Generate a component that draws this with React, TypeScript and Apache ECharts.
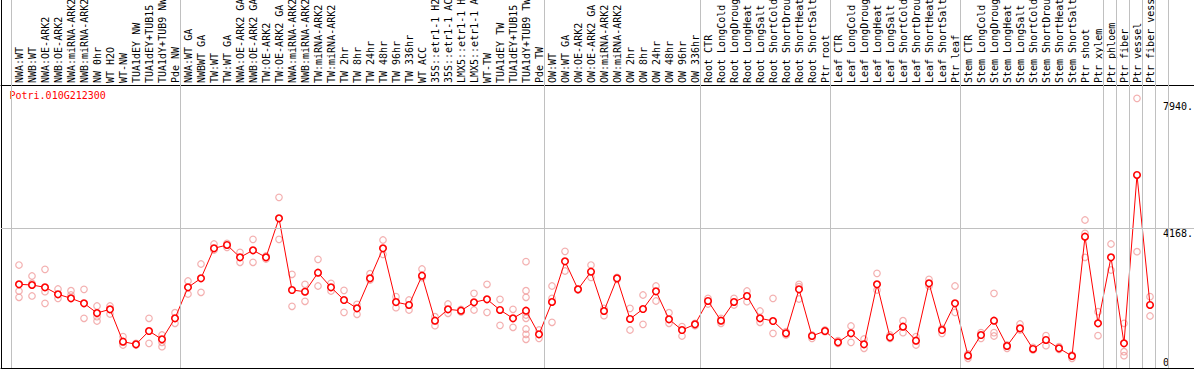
import React, { useEffect, useRef } from 'react';
import * as echarts from 'echarts';

const geneId = 'Potri.010G212300';

const categories = [
  'NWA:WT', 'NWB:WT', 'NWA:OE-ARK2', 'NWB:OE-ARK2', 'NWA:miRNA-ARK2', 'NWB:miRNA-ARK2', 'NW 0hr', 'WT H2O', 'WT-NW',
  'TUA1dEY NW', 'TUA1dEY+TUB15 NW', 'TUA1dY+TUB9 NW', 'Pde NW',
  'NWA:WT GA', 'NWBWT GA', 'TW:WT', 'TW:WT GA', 'NWA:OE-ARK2 GA', 'NWB:OE-ARK2 GA', 'TW:OE-ARK2', 'TW:OE-ARK2 GA',
  'NWA:miRNA-ARK2 GA', 'NWB:miRNA-ARK2 GA', 'TW:miRNA-ARK2', 'TW:miRNA-ARK2 GA', 'TW 2hr', 'TW 8hr', 'TW 24hr',
  'TW 48hr', 'TW 96hr', 'TW 336hr', 'WT ACC', '35S::etr1-1 H2O', '35S::etr1-1 ACC', 'LMX5::etr1-1 H2O',
  'LMX5::etr1-1 ACC', 'WT-TW', 'TUA1dEY TW', 'TUA1dEY+TUB15 TW', 'TUA1dY+TUB9 TW', 'Pde TW',
  'OW:WT', 'OW:WT GA', 'OW:OE-ARK2', 'OW:OE-ARK2 GA', 'OW:miRNA-ARK2', 'OW:miRNA-ARK2 GA', 'OW 2hr', 'OW 8hr',
  'OW 24hr', 'OW 48hr', 'OW 96hr', 'OW 336hr',
  'Root CTR', 'Root LongCold', 'Root LongDrought', 'Root LongHeat', 'Root LongSalt', 'Root ShortCold',
  'Root ShortDrought', 'Root ShortHeat', 'Root ShortSalt', 'Ptr root',
  'Leaf CTR', 'Leaf LongCold', 'Leaf LongDrought', 'Leaf LongHeat', 'Leaf LongSalt', 'Leaf ShortCold',
  'Leaf ShortDrought', 'Leaf ShortHeat', 'Leaf ShortSalt', 'Ptr leaf',
  'Stem CTR', 'Stem LongCold', 'Stem LongDrought', 'Stem LongHeat', 'Stem LongSalt', 'Stem ShortCold',
  'Stem ShortDrought', 'Stem ShortHeat', 'Stem ShortSalt', 'Ptr shoot', 'Ptr xylem',
  'Ptr phloem', 'Ptr fiber', 'Ptr vessel', 'Ptr fiber vessel',
];

const groupSizes = [13, 28, 12, 10, 10, 11, 1, 1, 1, 1, 1];

const meanValues = [
  2492, 2471, 2402, 2194, 2075, 1926, 1637, 1748, 783, 706,
  1101, 854, 1480, 2402, 2670, 3563, 3662, 3296, 3504, 3296,
  4457, 2322, 2271, 2837, 2402, 2024, 1777, 2670, 3563, 1962,
  1876, 2748, 1408, 1748, 1706, 1956, 2045, 1727, 1480, 1706,
  1003, 1965, 3176, 2343, 2867, 1697, 2670, 1459, 1756, 2283,
  1450, 1131, 1301, 1995, 1408, 1965, 2143, 1480, 1399, 1033,
  2343, 953, 1101, 765, 1033, 706, 2492, 914, 1230, 813,
  2522, 1131, 1926, 366, 982, 1408, 655, 1182, 566, 834,
  586, 357, 3909, 1331, 3296, 735, 5746, 1876,
];

const replicateValues = [
  [3066, 2292, 2104], [2739, 2521, 2144], [2937, 2273, 1925], [2352, 2074], [2302, 2173],
  [2342, 1479], [1846, 1528, 1399], [1846, 1608], [933, 685], [734, 685],
  [1479, 734], [983, 764, 635], [1647, 1330], [2590, 2203], [3096, 2253],
  [3692, 3513], [3712, 3592], [3443, 3146], [3830, 3146], [3334, 3245],
  [5081, 3830], [2789, 1836], [2491, 1985], [3235, 2441], [2521, 2292],
  [2312, 1657], [1895, 1598], [2808, 2620], [3811, 3384], [2124, 1796],
  [2025, 1727], [2947, 2689], [1528, 1260], [1905, 1628], [1747, 1667],
  [2223, 1727], [2491, 1657], [2044, 1270], [1747, 1211],
  [3166, 2302, 2104, 1578, 1479, 1161, 1002, 854],
  [1131, 883], [2441, 2074, 1360], [3473, 2888], [2352, 2322], [3066, 2699],
  [1776, 1558], [2699, 2640], [1776, 1131], [2173, 1300], [2441, 1995],
  [1647, 1330], [1231, 953], [1330, 1260], [2074, 1905], [1479, 1330],
  [2074, 1876], [2292, 1975], [1697, 1360], [2074, 1032], [1082, 983],
  [2491, 2421, 2054], [983, 883], [1131, 1082], [814, 734], [1251, 764],
  [863, 586], [2818, 2322], [983, 883], [1409, 1052], [933, 685],
  [2640, 2441], [1181, 1032], [2441, 1657], [417, 288], [1052, 883],
  [2223, 1052, 953], [685, 586], [1310, 1131], [615, 536], [963, 665],
  [635, 556], [387, 288], [4406, 4009, 3295], [1677, 963], [3692, 2918],
  [1330, 486, 367], [8028, 3463], [2124, 1548],
];

const yTickValues = [0, 4168, 7940];
const gridLineValues = [4168];

const FONT = '"DejaVu Sans Mono", monospace';

export default function App() {
  const ref = useRef<HTMLDivElement>(null);

  useEffect(() => {
    document.body.style.margin = '0';
    const el = ref.current!;
    const chart = echarts.init(el, null, { renderer: 'svg' });

    const W = 1194;
    const H = 370;
    const gridLeft = 1;
    const gridRight = 0;
    const gridTop = 0;
    const gridBottom = 2;
    const headerH = 85;
    const colW = 13;
    const firstColX = 19;
    const plotW = W - gridLeft - gridRight;
    const plotH = H - gridTop - gridBottom;
    const xMin = -(firstColX - gridLeft) / colW;
    const xMax = xMin + plotW / colW;
    // vertical scale: zero at the bottom line, middle grid line 140px above it
    const yMin = 0;
    const yMax = (plotH * gridLineValues[0]) / 140;
    const sepShift = 7.5 / colW;

    const boundaries: number[] = [0];
    groupSizes.forEach((s) => boundaries.push(boundaries[boundaries.length - 1] + s));

    const meanData = meanValues.map((v, i) => [i, v]);
    const repData: number[][] = [];
    replicateValues.forEach((arr, i) => arr.forEach((v) => repData.push([i, v])));

    const fmt = (v: number) => (v === 0 ? '0' : `${v}.`);

    chart.setOption({
      animation: false,
      grid: {
        left: gridLeft,
        right: gridRight,
        top: gridTop,
        bottom: gridBottom,
        containLabel: false,
        outerBoundsMode: 'none',
        show: false,
      },
      xAxis: [
        {
          type: 'value',
          min: xMin,
          max: xMax,
          position: 'bottom',
          axisLine: { show: true, onZero: false, lineStyle: { color: '#000', width: 1 } },
          axisTick: { show: false },
          axisLabel: { show: false },
          splitLine: { show: false },
        },
        {
          type: 'value',
          min: xMin,
          max: xMax,
          position: 'top',
          offset: -headerH,
          axisLine: { show: true, onZero: false, lineStyle: { color: '#000', width: 1 } },
          axisTick: { show: false },
          splitLine: { show: false },
          axisLabel: { show: false },
        },
      ],
      yAxis: {
        type: 'value',
        min: yMin,
        max: yMax,
        axisLine: { show: true, onZero: false, lineStyle: { color: '#000', width: 1 } },
        axisTick: { show: false },
        axisLabel: { show: false },
        splitLine: { show: false },
      },
      series: [
        {
          type: 'line',
          data: [],
          silent: true,
          z: 1,
          markLine: {
            silent: true,
            symbol: ['none', 'none'],
            label: { show: false },
            lineStyle: { color: '#c0c0c0', width: 1, type: 'solid' },
            emphasis: { disabled: true },
            data: [
              ...boundaries.map((b) => ({ xAxis: b - sepShift })),
              ...gridLineValues.map((v) => ({ yAxis: v })),
            ],
          },
        },
        {
          type: 'scatter',
          data: repData,
          silent: true,
          z: 2,
          symbol: 'circle',
          symbolSize: 6.5,
          itemStyle: { color: 'rgba(0,0,0,0)', borderColor: '#f09c9c', borderWidth: 1.2 },
        },
        {
          type: 'line',
          data: meanData,
          silent: true,
          z: 3,
          symbol: 'circle',
          symbolSize: 6.5,
          showAllSymbol: true,
          lineStyle: { color: '#ff0000', width: 1 },
          itemStyle: { color: '#ffffff', borderColor: '#ff0000', borderWidth: 1.6 },
        },
      ],
    });

    const bottomY = H - gridBottom;
    const yLabels = yTickValues.map((v) => {
      const py = chart.convertToPixel({ yAxisIndex: 0 }, v) as number;
      return {
        type: 'text',
        x: 1163,
        y: Math.min(py + 5, bottomY - 6),
        silent: true,
        style: {
          text: fmt(v),
          fill: '#000',
          font: `10px ${FONT}`,
          align: 'left',
          verticalAlign: 'middle',
        },
      };
    });

    const colLabels = categories.map((name, i) => {
      const px = chart.convertToPixel({ xAxisIndex: 0 }, i) as number;
      return {
        type: 'text',
        x: px + 0.5,
        y: headerH - 2,
        rotation: Math.PI / 2,
        silent: true,
        style: {
          text: name,
          fill: '#000',
          font: `10px ${FONT}`,
          align: 'left',
          verticalAlign: 'middle',
        },
      };
    });

    chart.setOption({
      graphic: [
        {
          type: 'text',
          x: 9.5,
          y: 95,
          silent: true,
          style: {
            text: geneId,
            fill: '#ff0000',
            font: `10px ${FONT}`,
            align: 'left',
            verticalAlign: 'middle',
          },
        },
        ...yLabels,
        ...colLabels,
      ],
    });

    return () => chart.dispose();
  }, []);

  return (
    <div
      ref={ref}
      style={{ position: 'absolute', left: 0, top: 0, width: 1194, height: 370, background: '#fff' }}
    />
  );
}
